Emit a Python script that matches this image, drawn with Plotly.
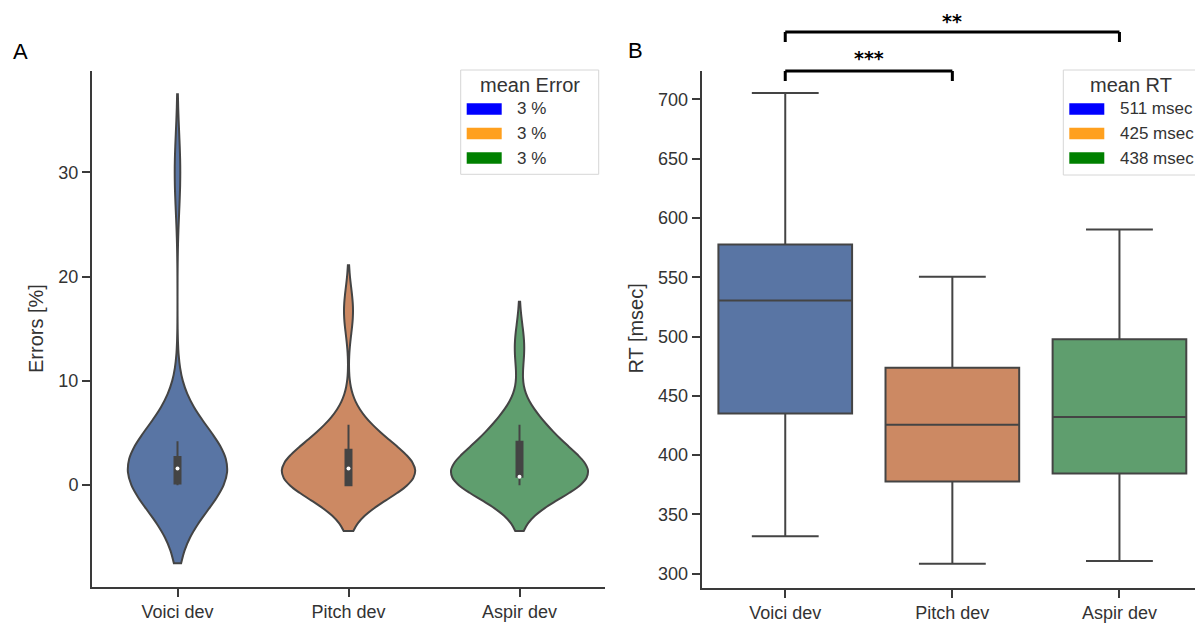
import numpy as np
import plotly.graph_objects as go

# the page body keeps an 8px margin, so the figure starts at (8, 8)
PAGE_W, PAGE_H, BODY = 1203, 623, 8
W, H = PAGE_W - BODY, PAGE_H - BODY

conditions = ["Voici dev", "Pitch dev", "Aspir dev"]
fill_colors = ["#5975a4", "#cc8963", "#5f9e6e"]
legend_colors = ["#0000ff", "#ffa01e", "#008000"]

# error rate per participant (%)
errors_voici = [0, 0, 0, 0, 0, 0.3, 0.8, 1.2, 1.6, 1.6, 1.6, 1.7, 2.1, 2.5, 2.5, 2.9, 3.3, 3.7, 4.2, 30.0]
errors_pitch = [0, 0, 0, 0, 0, 0, 0.8, 0.8, 1.2, 1.6, 1.6, 1.7, 2.1, 2.5, 3.3, 3.5, 4.2, 5.0, 5.8, 16.7]
errors_aspir = [0, 0, 0.4, 0.8, 0.8, 0.8, 0.8, 0.8, 0.8, 0.8, 0.8, 1.7, 2.1, 2.5, 3.3, 5.0, 5.0, 5.4, 5.8, 13.2]
error_data = [errors_voici, errors_pitch, errors_aspir]

# RT box statistics (msec)
rt_lowerfence = [331.5, 308.4, 310.7]
rt_q1 = [435.1, 377.8, 384.5]
rt_median = [530.3, 425.7, 432.1]
rt_q3 = [577.6, 473.6, 497.8]
rt_upperfence = [705.4, 550.4, 590.3]

mean_error_labels = ["3 %", "3 %", "3 %"]
mean_rt_labels = ["511 msec", "425 msec", "438 msec"]

# significance brackets on panel B
sig_pairs = [("Voici dev", "Pitch dev", "***"), ("Voici dev", "Aspir dev", "**")]

# kde look (seaborn-like)
kde_bandwidth = [3.75, 2.2, 2.2]
violin_width = [0.58, 0.78, 0.80]

EDGE = "#444444"
AX = "#3a3a3a"
TXT = "#333333"
FONT = "Liberation Sans, Arial, sans-serif"


def px(x):
    # page pixel -> paper x
    return (x - BODY) / W


def py(y):
    # page pixel -> paper y
    return 1 - (y - BODY) / H


fig = go.Figure()

# Panel A: violins
for i, (cond, vals) in enumerate(zip(conditions, error_data)):
    fig.add_trace(go.Violin(
        x=[cond] * len(vals), y=vals, xaxis="x", yaxis="y",
        fillcolor=fill_colors[i], line=dict(color=EDGE, width=2), opacity=1,
        bandwidth=kde_bandwidth[i], width=violin_width[i], spanmode="soft",
        scalemode="width", points=False,
        box=dict(visible=True, width=0.035 / violin_width[i], fillcolor=EDGE,
                 line=dict(color=EDGE, width=2)),
        showlegend=False, hoverinfo="skip"))
    fig.add_trace(go.Scatter(
        x=[cond], y=[np.median(vals)], xaxis="x", yaxis="y", mode="markers",
        marker=dict(color="white", size=4), showlegend=False, hoverinfo="skip"))

# Panel B: boxes
for i, cond in enumerate(conditions):
    fig.add_trace(go.Box(
        x=[cond], q1=[rt_q1[i]], median=[rt_median[i]], q3=[rt_q3[i]],
        lowerfence=[rt_lowerfence[i]], upperfence=[rt_upperfence[i]],
        xaxis="x2", yaxis="y2", fillcolor=fill_colors[i],
        line=dict(color=EDGE, width=2), width=0.8, whiskerwidth=0.5,
        boxpoints=False, showlegend=False, hoverinfo="skip"))

axis_style = dict(showline=True, linecolor=AX, linewidth=2, ticks="outside", ticklen=8,
                  tickwidth=2, tickcolor=AX, showgrid=False, zeroline=False, automargin=False,
                  tickfont=dict(size=18, color=TXT, family=FONT))

fig.update_layout(
    width=W, height=H, margin=dict(l=0, r=0, t=0, b=0),
    paper_bgcolor="white", plot_bgcolor="white",
    violinmode="overlay", boxmode="overlay",
    font=dict(family=FONT, color=TXT),
    xaxis=dict(domain=[px(92), px(605)], anchor="y", type="category",
               categoryorder="array", categoryarray=conditions, range=[-0.5, 2.5], **axis_style),
    yaxis=dict(domain=[py(586.7), py(71)], anchor="x", range=[-9.74, 39.72],
               tickvals=[0, 10, 20, 30], **axis_style),
    xaxis2=dict(domain=[px(701.7), 1.0], anchor="y2", type="category",
                categoryorder="array", categoryarray=conditions, range=[-0.5, 2.5], **axis_style),
    yaxis2=dict(domain=[py(587.7), py(71)], anchor="x2", range=[288.2, 723.9],
                dtick=50, **axis_style),
)

annotations = []
shapes = []


def label(text, x, y, size, color=TXT, xanchor="center", **kw):
    annotations.append(dict(text=text, x=px(x), y=py(y), xref="paper", yref="paper",
                            xanchor=xanchor, yanchor="middle", showarrow=False,
                            font=dict(size=size, color=color), **kw))


# axis titles and panel letters
label("Errors [%]", 36, 329, 20, textangle=-90)
label("RT [msec]", 635.6, 329, 20, textangle=-90)
label("A", 20, 51, 22, color="black")
label("B", 635, 50, 22, color="black")

# significance brackets
bracket_levels = [(71, 81, 58), (32, 42, 21)]
for (c0, c1, stars), (ytop, ybot, ytxt) in zip(sig_pairs, bracket_levels):
    line = dict(color="black", width=3)
    shapes.append(dict(type="line", xref="x2", yref="paper", x0=c0, x1=c1,
                       y0=py(ytop), y1=py(ytop), line=line))
    shapes.append(dict(type="line", xref="x2", yref="paper", x0=c0, x1=c0,
                       y0=py(ytop), y1=py(ybot), line=line))
    shapes.append(dict(type="line", xref="x2", yref="paper", x0=c1, x1=c1,
                       y0=py(ytop), y1=py(ybot), line=line))
    i0, i1 = conditions.index(c0), conditions.index(c1)
    annotations.append(dict(text="<b>%s</b>" % stars, xref="x2", yref="paper",
                            x=(i0 + i1) / 2, y=py(ytxt), xanchor="center", yanchor="middle",
                            showarrow=False, borderpad=0,
                            font=dict(size=19, color="black", family="DejaVu Sans")))


# hand-drawn legends (matplotlib style patches)
def draw_legend(x0, y0, w, h, title, labels):
    shapes.append(dict(type="rect", xref="paper", yref="paper", x0=px(x0), x1=px(x0 + w),
                       y0=py(y0), y1=py(y0 + h), line=dict(color="#d6d6d6", width=1),
                       fillcolor="rgba(255,255,255,0.8)", layer="above"))
    label(title, x0 + w / 2, y0 + 15, 20)
    for k, (lab, col) in enumerate(zip(labels, legend_colors)):
        yc = y0 + 39 + k * 24.5
        shapes.append(dict(type="rect", xref="paper", yref="paper", x0=px(x0 + 6),
                           x1=px(x0 + 41), y0=py(yc - 5.8), y1=py(yc + 5.8),
                           line=dict(width=0), fillcolor=col, layer="above"))
        label(lab, x0 + 54.5, yc, 17, xanchor="left")


draw_legend(460.7, 70, 138, 104.3, "mean Error", mean_error_labels)
draw_legend(1063.3, 70, 136, 105, "mean RT", mean_rt_labels)

fig.update_layout(annotations=annotations, shapes=shapes)

fig.write_html("out.html")
